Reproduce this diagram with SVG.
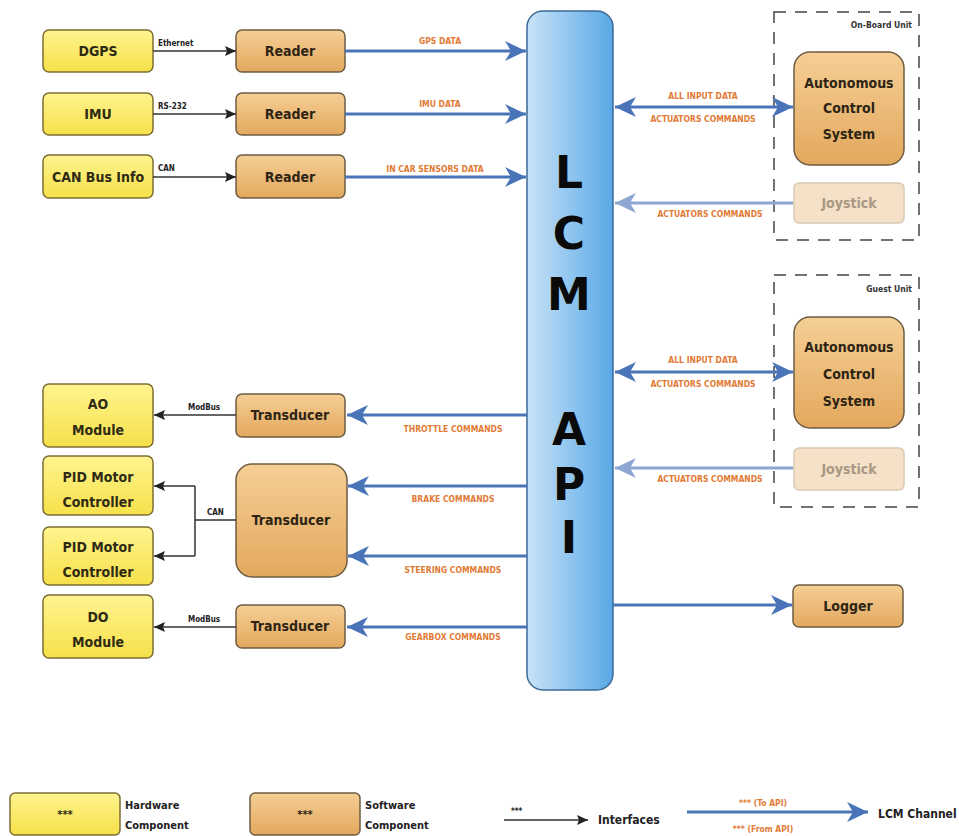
<svg xmlns="http://www.w3.org/2000/svg" width="959" height="836" viewBox="0 0 959 836">
<style>
text{font-family:"DejaVu Sans Condensed","Liberation Sans Narrow","Liberation Sans",sans-serif;font-weight:bold;}
.hw{fill:url(#gy);stroke:#7d6e35;stroke-width:1.5;}
.sw{fill:url(#go);stroke:#6e5c43;stroke-width:1.5;}
.jy{fill:#f5e1c8;stroke:#d9c9b2;stroke-width:1.5;}
.bt{font-size:14px;fill:#2e2a14;text-anchor:middle;}
.st{font-size:14px;fill:#2e2414;text-anchor:middle;}
.jt{font-size:14px;fill:#a89884;text-anchor:middle;}
.lbl{font-size:8.5px;fill:#e27a35;text-anchor:middle;}
.if{font-size:8px;fill:#222;}
.big{font-size:44px;fill:#0a0a0a;text-anchor:middle;font-family:"DejaVu Sans","Liberation Sans",sans-serif;}
.blk{stroke:#333;stroke-width:1.5;fill:none;}
.blue{stroke:#4a74b8;stroke-width:3;fill:none;}
.lblue{stroke:#8ea6d2;stroke-width:3;fill:none;}
.dash{fill:none;stroke:#444;stroke-width:1.5;stroke-dasharray:12 9;}
.unit{font-size:8.5px;fill:#333;text-anchor:end;}
</style>
<defs>
<linearGradient id="gy" x1="0" y1="0" x2="0" y2="1"><stop offset="0" stop-color="#fff48f"/><stop offset="1" stop-color="#f6e04a"/></linearGradient>
<linearGradient id="go" x1="0" y1="0" x2="0" y2="1"><stop offset="0" stop-color="#f5cf95"/><stop offset="1" stop-color="#e3a85e"/></linearGradient>
<linearGradient id="gb" x1="0" y1="0" x2="1" y2="0"><stop offset="0" stop-color="#c9e3f8"/><stop offset="1" stop-color="#58a8e6"/></linearGradient>
<marker id="ak" markerUnits="userSpaceOnUse" markerWidth="12" markerHeight="10" refX="11" refY="5" orient="auto-start-reverse"><path d="M0,0 L11,5 L0,10 L2,5 z" fill="#222"/></marker>
<marker id="ab" markerUnits="userSpaceOnUse" markerWidth="22" markerHeight="22" refX="21" refY="11" orient="auto-start-reverse"><path d="M0,1 L21,11 L0,21 L6,11 z" fill="#4a74b8"/></marker>
<marker id="al" markerUnits="userSpaceOnUse" markerWidth="22" markerHeight="22" refX="21" refY="11" orient="auto-start-reverse"><path d="M0,1 L21,11 L0,21 L6,11 z" fill="#8ea6d2"/></marker>
</defs>
<rect width="959" height="836" fill="#fff"/>

<g id="lcm">
<rect x="527" y="11" width="86" height="679" rx="16" fill="url(#gb)" stroke="#3d6a96" stroke-width="1.5"/>
<text class="big" x="569" y="188">L</text>
<text class="big" x="569" y="249">C</text>
<text class="big" x="569" y="310">M</text>
<text class="big" x="569" y="445">A</text>
<text class="big" x="569" y="500">P</text>
<text class="big" x="569" y="553">I</text>
</g>

<g id="dgps"><rect class="hw" x="43" y="30" width="110" height="42" rx="6"/><text class="bt" x="98" y="56">DGPS</text></g>
<g id="imu"><rect class="hw" x="43" y="93" width="110" height="42" rx="6"/><text class="bt" x="98" y="119">IMU</text></g>
<g id="canbus"><rect class="hw" x="43" y="155" width="110" height="43" rx="6"/><text class="bt" x="98" y="182">CAN Bus Info</text></g>

<g id="reader1"><rect class="sw" x="236" y="30" width="109" height="42" rx="6"/><text class="st" x="290" y="56">Reader</text></g>
<g id="reader2"><rect class="sw" x="236" y="93" width="109" height="42" rx="6"/><text class="st" x="290" y="119">Reader</text></g>
<g id="reader3"><rect class="sw" x="236" y="155" width="109" height="43" rx="6"/><text class="st" x="290" y="182">Reader</text></g>

<g id="onboard">
<rect class="dash" x="774" y="12" width="145" height="228"/>
<text class="unit" x="912" y="28">On-Board Unit</text>
</g>
<g id="acs1"><rect class="sw" x="794" y="52" width="110" height="113" rx="16"/>
<text class="st" x="849" y="88">Autonomous</text><text class="st" x="849" y="113">Control</text><text class="st" x="849" y="139">System</text></g>
<g id="joy1"><rect class="jy" x="794" y="183" width="110" height="40" rx="5"/><text class="jt" x="849" y="208">Joystick</text></g>

<g id="guest">
<rect class="dash" x="774" y="275" width="145" height="232"/>
<text class="unit" x="912" y="292">Guest Unit</text>
</g>
<g id="acs2"><rect class="sw" x="794" y="317" width="110" height="111" rx="16"/>
<text class="st" x="849" y="352">Autonomous</text><text class="st" x="849" y="379">Control</text><text class="st" x="849" y="406">System</text></g>
<g id="joy2"><rect class="jy" x="794" y="448" width="110" height="42" rx="5"/><text class="jt" x="849" y="474">Joystick</text></g>

<g id="ao"><rect class="hw" x="43" y="384" width="110" height="63" rx="6"/><text class="bt" x="98" y="409">AO</text><text class="bt" x="98" y="435">Module</text></g>
<g id="pid1"><rect class="hw" x="43" y="456" width="110" height="59" rx="6"/><text class="bt" x="98" y="482">PID Motor</text><text class="bt" x="98" y="507">Controller</text></g>
<g id="pid2"><rect class="hw" x="43" y="527" width="110" height="58" rx="6"/><text class="bt" x="98" y="552">PID Motor</text><text class="bt" x="98" y="577">Controller</text></g>
<g id="do"><rect class="hw" x="43" y="595" width="110" height="63" rx="6"/><text class="bt" x="98" y="622">DO</text><text class="bt" x="98" y="647">Module</text></g>

<g id="trans1"><rect class="sw" x="236" y="394" width="109" height="43" rx="6"/><text class="st" x="290" y="420">Transducer</text></g>
<g id="trans2"><rect class="sw" x="236" y="464" width="111" height="113" rx="16"/><text class="st" x="291" y="525">Transducer</text></g>
<g id="trans3"><rect class="sw" x="236" y="605" width="109" height="43" rx="6"/><text class="st" x="290" y="631">Transducer</text></g>

<g id="logger"><rect class="sw" x="793" y="585" width="110" height="42" rx="6"/><text class="st" x="848" y="611">Logger</text></g>

<g id="connectors">
<line class="blk" x1="153" y1="51" x2="236" y2="51" marker-end="url(#ak)"/>
<text class="if" x="158" y="46">Ethernet</text>
<line class="blk" x1="153" y1="114" x2="236" y2="114" marker-end="url(#ak)" stroke="#888"/>
<text class="if" x="158" y="109">RS-232</text>
<line class="blk" x1="153" y1="177" x2="236" y2="177" marker-end="url(#ak)"/>
<text class="if" x="158" y="171">CAN</text>

<line class="blue" x1="345" y1="51" x2="526" y2="51" marker-end="url(#ab)"/>
<text class="lbl" x="440" y="44">GPS DATA</text>
<line class="blue" x1="345" y1="114" x2="526" y2="114" marker-end="url(#ab)"/>
<text class="lbl" x="440" y="107">IMU DATA</text>
<line class="blue" x1="345" y1="177" x2="526" y2="177" marker-end="url(#ab)"/>
<text class="lbl" x="435" y="172">IN CAR SENSORS DATA</text>

<line class="blue" x1="615" y1="107" x2="793" y2="107" marker-start="url(#ab)" marker-end="url(#ab)"/>
<text class="lbl" x="703" y="99">ALL INPUT DATA</text>
<text class="lbl" x="703" y="122">ACTUATORS COMMANDS</text>
<line class="lblue" x1="793" y1="203" x2="615" y2="203" marker-end="url(#al)"/>
<text class="lbl" x="710" y="217">ACTUATORS COMMANDS</text>

<line class="blue" x1="615" y1="372" x2="793" y2="372" marker-start="url(#ab)" marker-end="url(#ab)"/>
<text class="lbl" x="703" y="363">ALL INPUT DATA</text>
<text class="lbl" x="703" y="387">ACTUATORS COMMANDS</text>
<line class="lblue" x1="793" y1="468" x2="615" y2="468" marker-end="url(#al)"/>
<text class="lbl" x="710" y="482">ACTUATORS COMMANDS</text>

<line class="blue" x1="527" y1="415" x2="347" y2="415" marker-end="url(#ab)"/>
<text class="lbl" x="453" y="432">THROTTLE COMMANDS</text>
<line class="blue" x1="527" y1="486" x2="348" y2="486" marker-end="url(#ab)"/>
<text class="lbl" x="453" y="502">BRAKE COMMANDS</text>
<line class="blue" x1="527" y1="556" x2="348" y2="556" marker-end="url(#ab)"/>
<text class="lbl" x="453" y="573">STEERING COMMANDS</text>
<line class="blue" x1="527" y1="627" x2="347" y2="627" marker-end="url(#ab)"/>
<text class="lbl" x="453" y="640">GEARBOX COMMANDS</text>

<line class="blue" x1="613" y1="605" x2="792" y2="605" marker-end="url(#ab)"/>

<line class="blk" x1="236" y1="415" x2="154" y2="415" marker-end="url(#ak)"/>
<text class="if" x="188" y="410">ModBus</text>
<polyline class="blk" points="236,520 195,520"/>
<polyline class="blk" points="195,486 195,556"/>
<line class="blk" x1="195" y1="486" x2="154" y2="486" marker-end="url(#ak)"/>
<line class="blk" x1="195" y1="556" x2="154" y2="556" marker-end="url(#ak)"/>
<text class="if" x="207" y="515">CAN</text>
<line class="blk" x1="236" y1="627" x2="154" y2="627" marker-end="url(#ak)"/>
<text class="if" x="188" y="622">ModBus</text>
</g>

<g id="legend">
<rect class="hw" x="10" y="793" width="110" height="42" rx="5"/>
<text class="bt" x="65" y="818" style="font-size:11px">***</text>
<text class="if" x="125" y="809" style="font-size:11px">Hardware</text>
<text class="if" x="125" y="829" style="font-size:11px">Component</text>
<rect class="sw" x="250" y="793" width="110" height="42" rx="5"/>
<text class="st" x="305" y="818" style="font-size:11px">***</text>
<text class="if" x="365" y="809" style="font-size:11px">Software</text>
<text class="if" x="365" y="829" style="font-size:11px">Component</text>
<line class="blk" x1="504" y1="820" x2="588" y2="820" marker-end="url(#ak)"/>
<text class="if" x="511" y="814">***</text>
<text class="if" x="598" y="824" style="font-size:12px">Interfaces</text>
<line class="blue" x1="687" y1="812" x2="868" y2="812" marker-end="url(#ab)"/>
<text class="lbl" x="763" y="806">*** (To API)</text>
<text class="lbl" x="763" y="832">*** (From API)</text>
<text class="if" x="878" y="818" style="font-size:12px">LCM Channel</text>
</g>
</svg>
